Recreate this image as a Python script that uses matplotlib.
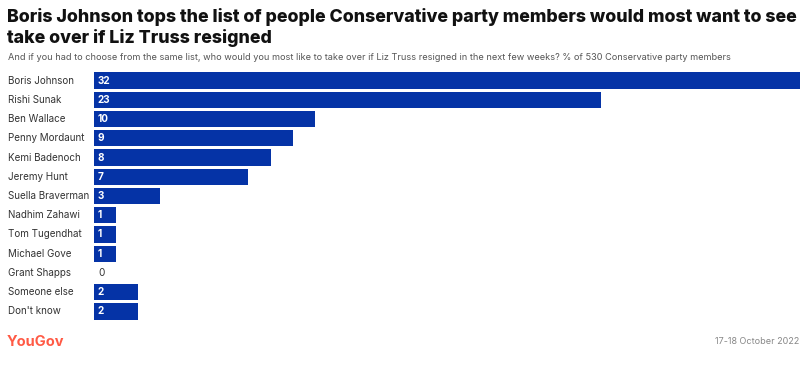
import matplotlib
matplotlib.use("Agg")
import matplotlib.pyplot as plt

names = ["Boris Johnson", "Rishi Sunak", "Ben Wallace", "Penny Mordaunt", "Kemi Badenoch",
         "Jeremy Hunt", "Suella Braverman", "Nadhim Zahawi", "Tom Tugendhat", "Michael Gove",
         "Grant Shapps", "Someone else", "Don't know"]
values = [32, 23, 10, 9, 8, 7, 3, 1, 1, 1, 0, 2, 2]

title = "Boris Johnson tops the list of people Conservative party members would most want to see\ntake over if Liz Truss resigned"
subtitle = ("And if you had to choose from the same list, who would you most like to take over if Liz Truss "
            "resigned in the next few weeks? % of 530 Conservative party members")
date_text = "17-18 October 2022"

plt.rcParams['font.family'] = ['Inter', 'DejaVu Sans']
W, H = 800, 370
fig = plt.figure(figsize=(W/100, H/100), dpi=100)
BLUE = "#0533A6"

top_px, bot_px = 71, 321
ax = fig.add_axes([94/W, 1 - bot_px/H, (W-94)/W, (bot_px-top_px)/H])
ypos = list(range(len(names)))
ax.barh(ypos, values, height=0.85, color=BLUE)
ax.set_xlim(0, 32)
ax.set_ylim(len(names) - 0.5, -0.5)
ax.axis("off")

for y, v, n in zip(ypos, values, names):
    if v > 0:
        ax.text(0.15, y, str(v), color="white", fontsize=7.2, fontweight="bold", va="center", ha="left")
    else:
        ax.text(0.2, y, str(v), color="#333333", fontsize=7.2, va="center", ha="left")
    fig.text(8/W, 1 - (top_px + (y + 0.5) * (bot_px - top_px) / len(names)) / H, n,
             fontsize=7.1, color="#333333", va="center", ha="left")

fig.text(7/W, 1 - 17/H, title.split("\n")[0], fontsize=12.8, fontweight=800, color="#111111",
         va="center", ha="left")
fig.text(7/W, 1 - 38/H, title.split("\n")[1], fontsize=12.8, fontweight=800, color="#111111",
         va="center", ha="left")
fig.text(8/W, 1 - 57/H, subtitle, fontsize=6.6, color="#555555", va="center", ha="left")
fig.text(7/W, 1 - 342/H, "YouGov", fontsize=10.5, fontweight="bold", color="#FF5A45",
         va="center", ha="left")
fig.text(799/W, 1 - 342/H, date_text, fontsize=6.5, color="#888888", va="center", ha="right")

fig.savefig("out.png", dpi=100, facecolor="white")
